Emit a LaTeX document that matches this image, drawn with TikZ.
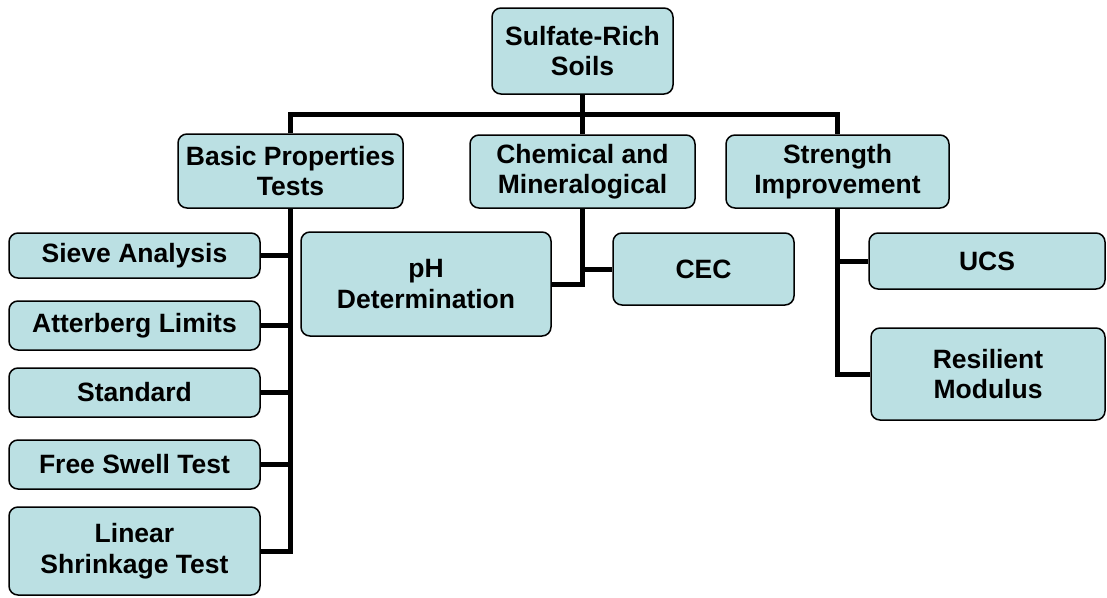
\documentclass[tikz,border=0pt]{standalone}
\usepackage{fontspec}
\setmainfont{Liberation Sans}
\definecolor{boxblue}{RGB}{187,224,227}
\tikzset{
  box/.style={draw=black,line width=1.5pt,fill=boxblue,rounded corners=9pt,
    align=center,inner sep=0pt,font=\fontsize{26.5}{30.5}\selectfont\bfseries},
  link/.style={line width=5pt}
}
\begin{document}
\begin{tikzpicture}[x=1pt,y=-1pt]
  \useasboundingbox (0,0) rectangle (1107,597);

  \begin{scope}[every node/.style={box}]
    \node[minimum width=181pt,minimum height=86pt] (soils) at (582.5,51) {Sulfate-Rich\\Soils};
    \node[minimum width=225pt,minimum height=74pt] (basic) at (290.5,171) {Basic Properties\\Tests};
    \node[minimum width=225pt,minimum height=73pt] (chem) at (582.5,171.5) {Chemical and\\Mineralogical};
    \node[minimum width=223pt,minimum height=73pt] (strength) at (837.5,171.5) {Strength\\Improvement};

    \node[minimum width=251pt,minimum height=45pt] (sieve) at (134.5,255.5) {Sieve Analysis};
    \node[minimum width=251pt,minimum height=49pt] (atterberg) at (134.5,325.5) {Atterberg Limits};
    \node[minimum width=251pt,minimum height=49pt] (standard) at (134.5,392.5) {Standard};
    \node[minimum width=251pt,minimum height=49pt] (freeswell) at (134.5,464.5) {Free Swell Test};
    \node[minimum width=251pt,minimum height=88pt] (linear) at (134.5,551) {Linear\\Shrinkage Test};

    \node[minimum width=250pt,minimum height=104pt] (ph) at (426,284) {pH\\Determination};
    \node[minimum width=181pt,minimum height=72pt] (cec) at (703.5,269) {CEC};

    \node[minimum width=236pt,minimum height=56pt] (ucs) at (987,261) {UCS};
    \node[minimum width=234pt,minimum height=92pt] (resil) at (988,374) {Resilient\\Modulus};
  \end{scope}

  \coordinate (bus) at (582.5,114);

  \begin{scope}[link]
    \draw (soils.south) -- (bus);
    \draw (basic.north) |- (bus) -| (strength.north);
    \draw (bus) -- (chem.north);
    \foreach \n in {sieve,atterberg,standard,freeswell,linear}
      \draw (basic.south) |- (\n.east);
    \draw (chem.south) |- (ph.east);
    \draw (chem.south) |- (cec.west);
    \draw (strength.south) |- (ucs.west);
    \draw (strength.south) |- (resil.west);
  \end{scope}
\end{tikzpicture}
\end{document}
